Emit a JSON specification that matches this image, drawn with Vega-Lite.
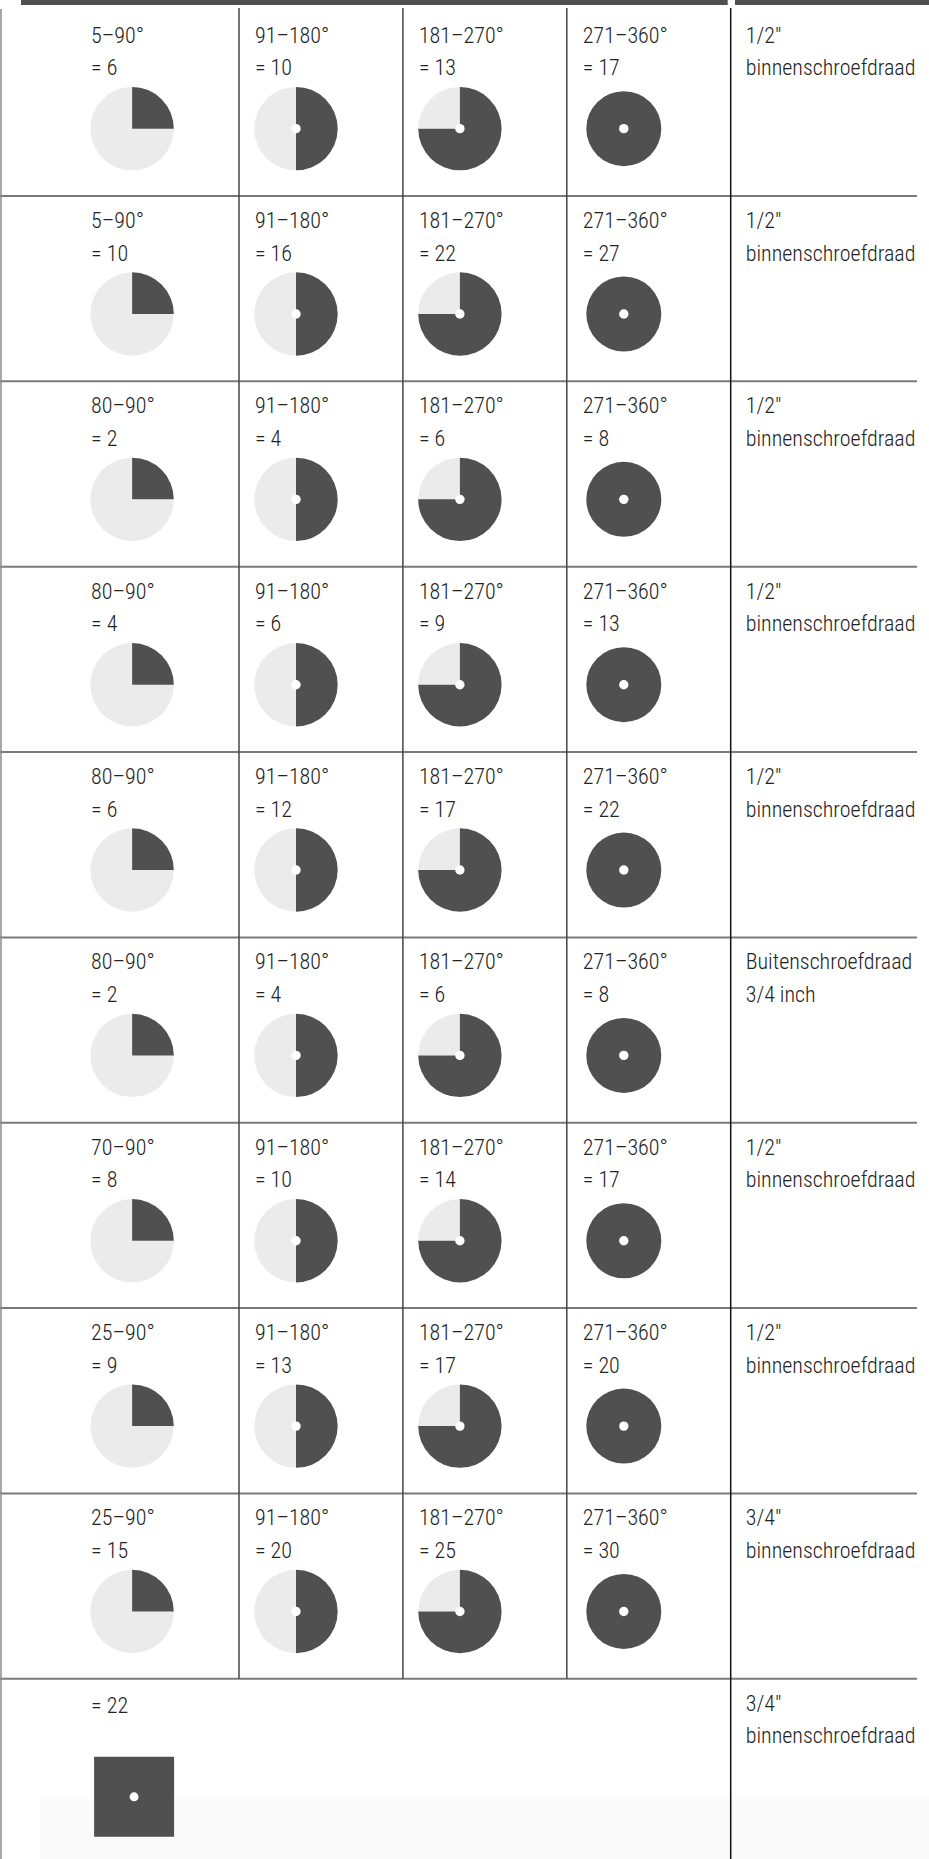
{
  "$schema": "https://vega.github.io/schema/vega-lite/v6.json",
  "width": 929,
  "height": 1859,
  "autosize": {"type": "none"},
  "padding": 0,
  "background": "white",
  "config": {
    "view": {"stroke": null},
    "axis": {"disable": true},
    "legend": {"disable": true},
    "text": {"font": "Roboto Condensed, Liberation Sans Narrow, Liberation Sans, sans-serif", "fontSize": 22, "fontWeight": 300, "color": "#222222"}
  },
  "datasets": {
    "cells": [
      {"row": 0, "col": 0, "range": "5–90°", "value": "= 6", "deg": 90},
      {"row": 0, "col": 1, "range": "91–180°", "value": "= 10", "deg": 180},
      {"row": 0, "col": 2, "range": "181–270°", "value": "= 13", "deg": 270},
      {"row": 0, "col": 3, "range": "271–360°", "value": "= 17", "deg": 360},
      {"row": 1, "col": 0, "range": "5–90°", "value": "= 10", "deg": 90},
      {"row": 1, "col": 1, "range": "91–180°", "value": "= 16", "deg": 180},
      {"row": 1, "col": 2, "range": "181–270°", "value": "= 22", "deg": 270},
      {"row": 1, "col": 3, "range": "271–360°", "value": "= 27", "deg": 360},
      {"row": 2, "col": 0, "range": "80–90°", "value": "= 2", "deg": 90},
      {"row": 2, "col": 1, "range": "91–180°", "value": "= 4", "deg": 180},
      {"row": 2, "col": 2, "range": "181–270°", "value": "= 6", "deg": 270},
      {"row": 2, "col": 3, "range": "271–360°", "value": "= 8", "deg": 360},
      {"row": 3, "col": 0, "range": "80–90°", "value": "= 4", "deg": 90},
      {"row": 3, "col": 1, "range": "91–180°", "value": "= 6", "deg": 180},
      {"row": 3, "col": 2, "range": "181–270°", "value": "= 9", "deg": 270},
      {"row": 3, "col": 3, "range": "271–360°", "value": "= 13", "deg": 360},
      {"row": 4, "col": 0, "range": "80–90°", "value": "= 6", "deg": 90},
      {"row": 4, "col": 1, "range": "91–180°", "value": "= 12", "deg": 180},
      {"row": 4, "col": 2, "range": "181–270°", "value": "= 17", "deg": 270},
      {"row": 4, "col": 3, "range": "271–360°", "value": "= 22", "deg": 360},
      {"row": 5, "col": 0, "range": "80–90°", "value": "= 2", "deg": 90},
      {"row": 5, "col": 1, "range": "91–180°", "value": "= 4", "deg": 180},
      {"row": 5, "col": 2, "range": "181–270°", "value": "= 6", "deg": 270},
      {"row": 5, "col": 3, "range": "271–360°", "value": "= 8", "deg": 360},
      {"row": 6, "col": 0, "range": "70–90°", "value": "= 8", "deg": 90},
      {"row": 6, "col": 1, "range": "91–180°", "value": "= 10", "deg": 180},
      {"row": 6, "col": 2, "range": "181–270°", "value": "= 14", "deg": 270},
      {"row": 6, "col": 3, "range": "271–360°", "value": "= 17", "deg": 360},
      {"row": 7, "col": 0, "range": "25–90°", "value": "= 9", "deg": 90},
      {"row": 7, "col": 1, "range": "91–180°", "value": "= 13", "deg": 180},
      {"row": 7, "col": 2, "range": "181–270°", "value": "= 17", "deg": 270},
      {"row": 7, "col": 3, "range": "271–360°", "value": "= 20", "deg": 360},
      {"row": 8, "col": 0, "range": "25–90°", "value": "= 15", "deg": 90},
      {"row": 8, "col": 1, "range": "91–180°", "value": "= 20", "deg": 180},
      {"row": 8, "col": 2, "range": "181–270°", "value": "= 25", "deg": 270},
      {"row": 8, "col": 3, "range": "271–360°", "value": "= 30", "deg": 360}
    ],
    "last": [{"row": 9, "col": 0, "value": "= 22"}],
    "notes": [
      {"row": 0, "col": 4, "l1": "1/2\"", "l2": "binnenschroefdraad"},
      {"row": 1, "col": 4, "l1": "1/2\"", "l2": "binnenschroefdraad"},
      {"row": 2, "col": 4, "l1": "1/2\"", "l2": "binnenschroefdraad"},
      {"row": 3, "col": 4, "l1": "1/2\"", "l2": "binnenschroefdraad"},
      {"row": 4, "col": 4, "l1": "1/2\"", "l2": "binnenschroefdraad"},
      {"row": 5, "col": 4, "l1": "Buitenschroefdraad", "l2": "3/4 inch"},
      {"row": 6, "col": 4, "l1": "1/2\"", "l2": "binnenschroefdraad"},
      {"row": 7, "col": 4, "l1": "1/2\"", "l2": "binnenschroefdraad"},
      {"row": 8, "col": 4, "l1": "3/4\"", "l2": "binnenschroefdraad"},
      {"row": 9, "col": 4, "l1": "3/4\"", "l2": "binnenschroefdraad"}
    ],
    "hl": [{"r": 1}, {"r": 2}, {"r": 3}, {"r": 4}, {"r": 5}, {"r": 6}, {"r": 7}, {"r": 8}, {"r": 9}],
    "vl": [
      {"c": 1, "r0": -0.0143, "r1": 9, "kind": "inner"},
      {"c": 2, "r0": -0.0143, "r1": 9, "kind": "inner"},
      {"c": 3, "r0": -0.0143, "r1": 9, "kind": "inner"},
      {"c": 4, "r0": -0.0143, "r1": 9.9722, "kind": "edge"},
      {"c": -0.4521, "r0": -0.0089, "r1": 9.9722, "kind": "left"}
    ],
    "bars": [
      {"c0": -0.3301, "c1": 3.9817, "r0": -0.05746, "r1": -0.0305},
      {"c0": 4.026, "c1": 5.2099, "r0": -0.05746, "r1": -0.0305}
    ],
    "bg": [{"c0": -0.2142, "c1": 5.2099, "r0": 9.6485, "r1": 9.9722}]
  },
  "layer": [
    {
      "data": {"name": "bg"},
      "mark": {"type": "rect", "color": "#fafafa"},
      "encoding": {
        "x": {"field": "c0", "type": "quantitative", "scale": {"domain": [-0.4582, 5.2099], "nice": false, "zero": false}},
        "x2": {"field": "c1"},
        "y": {"field": "r0", "type": "quantitative", "scale": {"domain": [-0.05746, 9.9722], "nice": false, "zero": false, "reverse": true}},
        "y2": {"field": "r1"}
      }
    },
    {
      "data": {"name": "bars"},
      "mark": {"type": "rect", "color": "#505050"},
      "encoding": {
        "x": {"field": "c0", "type": "quantitative", "scale": {"domain": [-0.4582, 5.2099], "nice": false, "zero": false}},
        "x2": {"field": "c1"},
        "y": {"field": "r0", "type": "quantitative", "scale": {"domain": [-0.05746, 9.9722], "nice": false, "zero": false, "reverse": true}},
        "y2": {"field": "r1"}
      }
    },
    {
      "data": {"name": "hl"},
      "mark": {"type": "rule", "color": "#7a7a7a", "strokeWidth": 2},
      "encoding": {
        "y": {"field": "r", "type": "quantitative", "scale": {"domain": [-0.05746, 9.9722], "nice": false, "zero": false, "reverse": true}},
        "x": {"datum": -0.4582, "type": "quantitative", "scale": {"domain": [-0.4582, 5.2099], "nice": false, "zero": false}},
        "x2": {"datum": 5.1367}
      }
    },
    {
      "data": {"name": "vl"},
      "mark": {"type": "rule", "strokeWidth": 1.5},
      "encoding": {
        "x": {"field": "c", "type": "quantitative", "scale": {"domain": [-0.4582, 5.2099], "nice": false, "zero": false}},
        "y": {"field": "r0", "type": "quantitative", "scale": {"domain": [-0.05746, 9.9722], "nice": false, "zero": false, "reverse": true}},
        "y2": {"field": "r1"},
        "color": {"field": "kind", "type": "nominal", "scale": {"domain": ["inner", "edge", "left"], "range": ["#454545", "#111111", "#8a8a8a"]}, "legend": null}
      }
    },
    {
      "data": {"name": "cells"},
      "transform": [{"filter": "datum.col < 3"}],
      "mark": {"type": "arc", "outerRadius": 41.7, "color": "#ebebeb", "xOffset": 57, "yOffset": 118},
      "encoding": {
        "x": {"field": "col", "type": "quantitative", "scale": {"domain": [-0.4582, 5.2099], "nice": false, "zero": false}},
        "y": {"field": "row", "type": "quantitative", "scale": {"domain": [-0.05746, 9.9722], "nice": false, "zero": false, "reverse": true}},
        "theta": {"field": "deg", "type": "quantitative", "stack": null, "scale": {"domain": [0, 360], "range": [0, 6.283185307179586], "zero": false, "nice": false}},
        "theta2": {"datum": 360}
      }
    },
    {
      "data": {"name": "cells"},
      "transform": [{"filter": "datum.col < 3"}],
      "mark": {"type": "arc", "outerRadius": 41.7, "color": "#505050", "xOffset": 57, "yOffset": 118},
      "encoding": {
        "x": {"field": "col", "type": "quantitative", "scale": {"domain": [-0.4582, 5.2099], "nice": false, "zero": false}},
        "y": {"field": "row", "type": "quantitative", "scale": {"domain": [-0.05746, 9.9722], "nice": false, "zero": false, "reverse": true}},
        "theta": {"field": "deg", "type": "quantitative", "stack": null, "scale": {"domain": [0, 360], "range": [0, 6.283185307179586], "zero": false, "nice": false}},
        "theta2": {"datum": 0}
      }
    },
    {
      "data": {"name": "cells"},
      "transform": [{"filter": "datum.col == 3"}],
      "mark": {"type": "arc", "outerRadius": 37.5, "color": "#505050", "xOffset": 57, "yOffset": 118},
      "encoding": {
        "x": {"field": "col", "type": "quantitative", "scale": {"domain": [-0.4582, 5.2099], "nice": false, "zero": false}},
        "y": {"field": "row", "type": "quantitative", "scale": {"domain": [-0.05746, 9.9722], "nice": false, "zero": false, "reverse": true}},
        "theta": {"field": "deg", "type": "quantitative", "stack": null, "scale": {"domain": [0, 360], "range": [0, 6.283185307179586], "zero": false, "nice": false}},
        "theta2": {"datum": 0}
      }
    },
    {
      "data": {"name": "cells"},
      "transform": [{"filter": "datum.col >= 1"}],
      "mark": {"type": "point", "shape": "circle", "filled": true, "size": 88, "color": "#ffffff", "opacity": 1, "strokeWidth": 0, "xOffset": 57, "yOffset": 118},
      "encoding": {
        "x": {"field": "col", "type": "quantitative", "scale": {"domain": [-0.4582, 5.2099], "nice": false, "zero": false}},
        "y": {"field": "row", "type": "quantitative", "scale": {"domain": [-0.05746, 9.9722], "nice": false, "zero": false, "reverse": true}}
      }
    },
    {
      "data": {"name": "last"},
      "mark": {"type": "point", "shape": "square", "filled": true, "size": 6400, "color": "#505050", "opacity": 1, "strokeWidth": 0, "xOffset": 59, "yOffset": 118},
      "encoding": {
        "x": {"field": "col", "type": "quantitative", "scale": {"domain": [-0.4582, 5.2099], "nice": false, "zero": false}},
        "y": {"field": "row", "type": "quantitative", "scale": {"domain": [-0.05746, 9.9722], "nice": false, "zero": false, "reverse": true}}
      }
    },
    {
      "data": {"name": "last"},
      "mark": {"type": "point", "shape": "circle", "filled": true, "size": 80, "color": "#ffffff", "opacity": 1, "strokeWidth": 0, "xOffset": 59, "yOffset": 118},
      "encoding": {
        "x": {"field": "col", "type": "quantitative", "scale": {"domain": [-0.4582, 5.2099], "nice": false, "zero": false}},
        "y": {"field": "row", "type": "quantitative", "scale": {"domain": [-0.05746, 9.9722], "nice": false, "zero": false, "reverse": true}}
      }
    },
    {
      "data": {"name": "cells"},
      "mark": {"type": "text", "align": "left", "baseline": "alphabetic", "dx": 16, "dy": 32},
      "encoding": {
        "x": {"field": "col", "type": "quantitative", "scale": {"domain": [-0.4582, 5.2099], "nice": false, "zero": false}},
        "y": {"field": "row", "type": "quantitative", "scale": {"domain": [-0.05746, 9.9722], "nice": false, "zero": false, "reverse": true}},
        "text": {"field": "range"}
      }
    },
    {
      "data": {"name": "cells"},
      "mark": {"type": "text", "align": "left", "baseline": "alphabetic", "dx": 16, "dy": 64.5},
      "encoding": {
        "x": {"field": "col", "type": "quantitative", "scale": {"domain": [-0.4582, 5.2099], "nice": false, "zero": false}},
        "y": {"field": "row", "type": "quantitative", "scale": {"domain": [-0.05746, 9.9722], "nice": false, "zero": false, "reverse": true}},
        "text": {"field": "value"}
      }
    },
    {
      "data": {"name": "last"},
      "mark": {"type": "text", "align": "left", "baseline": "alphabetic", "dx": 16, "dy": 34},
      "encoding": {
        "x": {"field": "col", "type": "quantitative", "scale": {"domain": [-0.4582, 5.2099], "nice": false, "zero": false}},
        "y": {"field": "row", "type": "quantitative", "scale": {"domain": [-0.05746, 9.9722], "nice": false, "zero": false, "reverse": true}},
        "text": {"field": "value"}
      }
    },
    {
      "data": {"name": "notes"},
      "mark": {"type": "text", "align": "left", "baseline": "alphabetic", "dx": 15, "dy": 32},
      "encoding": {
        "x": {"field": "col", "type": "quantitative", "scale": {"domain": [-0.4582, 5.2099], "nice": false, "zero": false}},
        "y": {"field": "row", "type": "quantitative", "scale": {"domain": [-0.05746, 9.9722], "nice": false, "zero": false, "reverse": true}},
        "text": {"field": "l1"}
      }
    },
    {
      "data": {"name": "notes"},
      "mark": {"type": "text", "align": "left", "baseline": "alphabetic", "dx": 15, "dy": 64.5},
      "encoding": {
        "x": {"field": "col", "type": "quantitative", "scale": {"domain": [-0.4582, 5.2099], "nice": false, "zero": false}},
        "y": {"field": "row", "type": "quantitative", "scale": {"domain": [-0.05746, 9.9722], "nice": false, "zero": false, "reverse": true}},
        "text": {"field": "l2"}
      }
    }
  ]
}
